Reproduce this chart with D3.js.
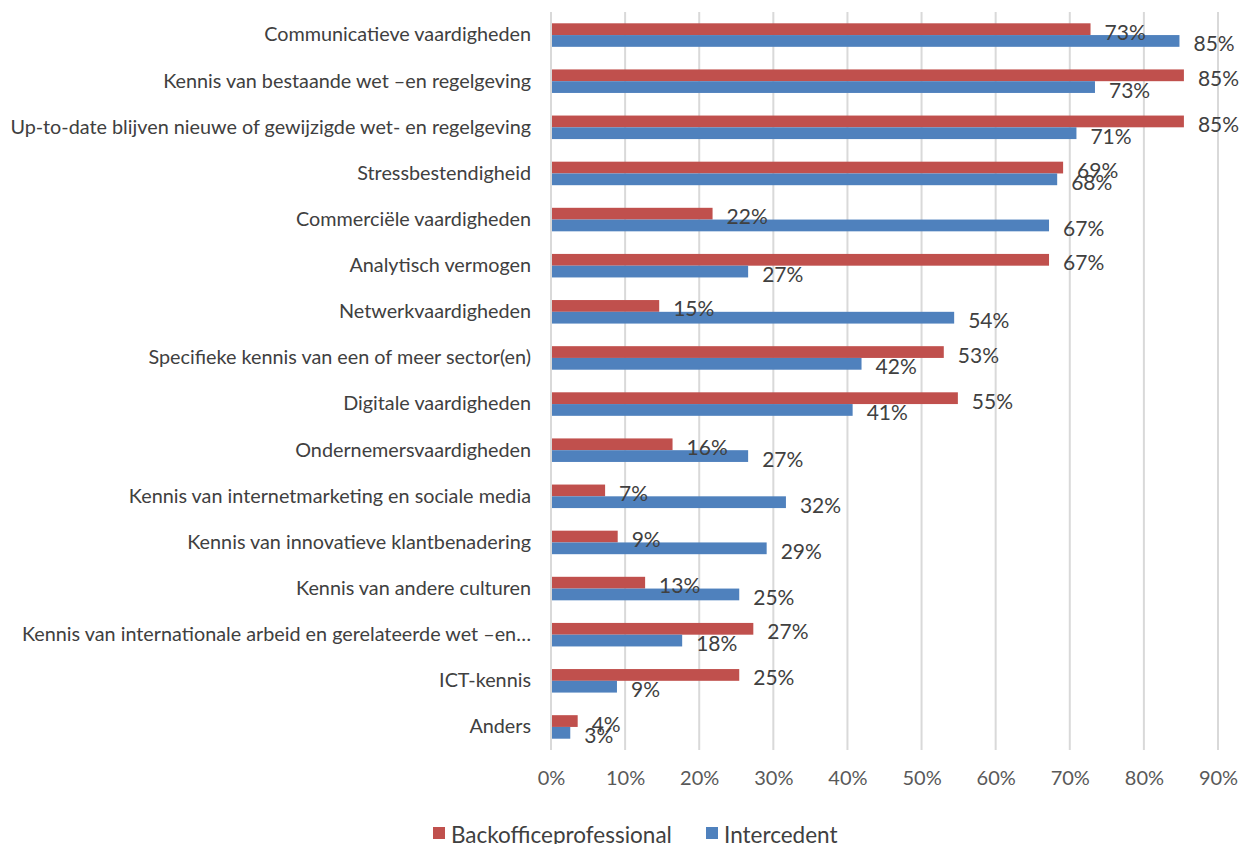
<!DOCTYPE html>
<html>
<head>
<meta charset="utf-8">
<script src="https://cdn.jsdelivr.net/npm/d3@7"></script>
<style>
  body { margin: 0; background: #fff; }
  #chart { width: 1246px; height: 844px; }
  text { font-family: Lato, sans-serif; }
</style>
</head>
<body>
<div id="chart"></div>
<script>
const width = 1246;
const height = 844;

// categories, top to bottom
const categories = [
  "Communicatieve vaardigheden",
  "Kennis van bestaande wet \u2013en regelgeving",
  "Up-to-date blijven nieuwe of gewijzigde wet- en regelgeving",
  "Stressbestendigheid",
  "Commerciële vaardigheden",
  "Analytisch vermogen",
  "Netwerkvaardigheden",
  "Specifieke kennis van een of meer sector(en)",
  "Digitale vaardigheden",
  "Ondernemersvaardigheden",
  "Kennis van internetmarketing en sociale media",
  "Kennis van innovatieve klantbenadering",
  "Kennis van andere culturen",
  "Kennis van internationale arbeid en gerelateerde wet \u2013en\u2026",
  "ICT-kennis",
  "Anders",
];

// fractions
const backoffice = [0.728, 0.854, 0.854, 0.691, 0.218, 0.672, 0.146, 0.530, 0.549, 0.164,
  0.073, 0.090, 0.127, 0.273, 0.254, 0.036];
const intercedent = [0.848, 0.734, 0.709, 0.683, 0.672, 0.266, 0.544, 0.419, 0.407, 0.266,
  0.317, 0.291, 0.254, 0.177, 0.089, 0.026];

const seriesNames = ["Backofficeprofessional", "Intercedent"];
const seriesColors = ["#C0504D", "#4F81BD"];
const xTicks = [0, 0.1, 0.2, 0.3, 0.4, 0.5, 0.6, 0.7, 0.8, 0.9];

const rows = categories.map((c, i) => ({
  name: c,
  values: [backoffice[i], intercedent[i]],
}));

const svg = d3
  .select("#chart")
  .append("svg")
  .attr("width", width)
  .attr("height", height);

const x = d3.scaleLinear().domain([0, 0.9]).range([551, 1218]);

const y = d3
  .scaleBand()
  .domain(categories)
  .range([12, 750])
  .paddingInner(0.49)
  .paddingOuter(0.245);

const ySub = d3
  .scaleBand()
  .domain([0, 1])
  .range([0, y.bandwidth()]);

const pct = d3.format(".0%");

// gridlines
svg
  .append("g")
  .attr("class", "grid")
  .selectAll("line")
  .data(xTicks)
  .enter()
  .append("line")
  .attr("x1", (d) => x(d))
  .attr("x2", (d) => x(d))
  .attr("y1", 12)
  .attr("y2", 750)
  .attr("stroke", "#D9D9D9")
  .attr("stroke-width", 2);

// x axis labels
const xAxis = svg
  .append("g")
  .attr("transform", "translate(0, 750)")
  .call(d3.axisBottom(x).tickValues(xTicks).tickFormat(pct).tickSize(0).tickPadding(21));
xAxis.select(".domain").remove();
xAxis
  .selectAll("text")
  .attr("font-family", "Lato, sans-serif")
  .attr("font-size", 20)
  .attr("fill", "#595959");

// category labels
const yAxis = svg
  .append("g")
  .attr("transform", "translate(531, 0)")
  .call(d3.axisLeft(y).tickSize(0).tickPadding(0));
yAxis.select(".domain").remove();
yAxis
  .selectAll("text")
  .attr("font-family", "Lato, sans-serif")
  .attr("font-size", 19.8)
  .attr("fill", "#404040");

// bars
const groups = svg
  .append("g")
  .attr("class", "bars")
  .selectAll("g")
  .data(rows)
  .enter()
  .append("g")
  .attr("transform", (d) => `translate(0, ${y(d.name)})`);

groups
  .selectAll("rect")
  .data((d) => d.values)
  .enter()
  .append("rect")
  .attr("x", x(0))
  .attr("y", (d, i) => ySub(i))
  .attr("width", (d) => x(d) - x(0))
  .attr("height", ySub.bandwidth())
  .attr("fill", (d, i) => seriesColors[i]);

// value labels
groups
  .selectAll("text.val")
  .data((d) => d.values)
  .enter()
  .append("text")
  .attr("class", "val")
  .attr("x", (d) => x(d) + 14)
  .attr("y", (d, i) => ySub(i) + ySub.bandwidth() / 2 + 2)
  .attr("dominant-baseline", "central")
  .attr("font-size", 21)
  .attr("fill", "#404040")
  .text((d) => pct(d));

// axis line
svg
  .append("line")
  .attr("x1", x(0))
  .attr("x2", x(0))
  .attr("y1", 12)
  .attr("y2", 750)
  .attr("stroke", "#D9D9D9")
  .attr("stroke-width", 2);

// legend
const legendX = [433, 706];
const legend = svg
  .append("g")
  .attr("class", "legend")
  .selectAll("g")
  .data(seriesNames)
  .enter()
  .append("g")
  .attr("transform", (d, i) => `translate(${legendX[i]}, 827)`);

legend
  .append("rect")
  .attr("width", 12)
  .attr("height", 12)
  .attr("fill", (d, i) => seriesColors[i]);

legend
  .append("text")
  .attr("x", 18)
  .attr("y", 7)
  .attr("dominant-baseline", "central")
  .attr("font-size", 22.5)
  .attr("fill", "#404040")
  .text((d) => d);
</script>
</body>
</html>
